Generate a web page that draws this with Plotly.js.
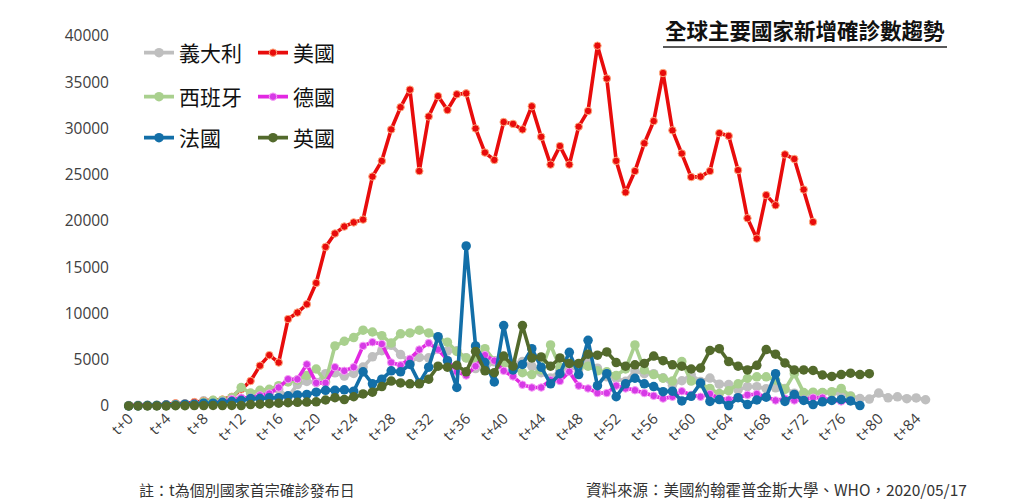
<!DOCTYPE html>
<html>
<head>
<meta charset="utf-8">
<script src="https://cdn.plot.ly/plotly-3.0.1.min.js"></script>
<style>html,body{margin:0;padding:0;background:#fff;}#chart{width:1024px;height:504px;}</style>
</head>
<body>
<div id="chart"></div>
<script>
// category labels t+0 ... t+87
const days = [];
for (let i = 0; i < 88; i++) days.push('t+' + i);
const tickLabels = ['t+0','t+4','t+8','t+12','t+16','t+20','t+24','t+28','t+32','t+36','t+40','t+44','t+48','t+52','t+56','t+60','t+64','t+68','t+72','t+76','t+80','t+84'];

const seriesNames = ['義大利', '美國', '西班牙', '德國', '法國', '英國'];

const italy = [42,93,74,93,131,202,233,240,566,342,466,587,769,778,1247,1492,1797,977,2313,2651,
  2547,3497,3590,3233,3526,4207,5322,5986,6557,5560,4789,5249,5210,6153,5959,5974,5217,4050,4053,4782,
  4668,4585,4805,4316,3599,3039,3836,4204,3951,4694,4092,3153,2972,2667,3786,3493,3491,3047,2256,2729,
  3370,2646,3021,2357,2324,1739,2091,2086,1872,1965,1900,1389,1221,1075,1444,1401,1327,1083,802,744,
  1402,888,992,789,875,675];

const usa = [70,60,110,120,180,290,270,420,540,660,700,1000,1800,2700,4360,5500,4700,9400,10100,11000,
  13300,17200,18650,19400,19850,20150,24800,26500,29900,32300,34200,25400,31300,33500,32000,33700,33800,30000,27400,26600,
  30700,30500,29900,32400,29100,26100,28100,26100,30200,31900,38950,35400,26500,23100,25400,28400,30800,36000,29800,27300,
  24750,24800,25400,29500,29200,25500,20300,18100,22800,21700,27200,26700,23400,19900];

const spain = [40,36,45,57,37,141,100,173,400,622,582,900,2000,1400,1700,1800,2200,2600,2800,3300,
  4000,2600,6500,7000,7400,8200,8000,7600,6800,7800,7900,8200,7900,7400,6900,5900,5200,5000,6200,4900,
  4600,4200,3600,3400,3900,6600,4200,4600,4200,4300,3800,3700,3300,4000,6600,3900,3400,3000,2700,4800,
  2700,2400,1900,1350,1650,2400,3000,3150,3150,2800,1800,3500,1450,1500,1450,1550,1900,1050];

const germany = [50,20,70,60,100,140,100,240,160,300,500,750,900,900,1150,1350,2000,2900,2900,4500,
  2500,2500,4200,3800,4200,6500,6900,6700,4700,4400,5100,6100,6800,6100,5000,3700,3300,4300,5500,4900,
  3800,3200,2300,2000,2000,2800,2700,3700,2200,1900,1400,1400,2200,1900,1700,1400,1100,800,1000,1600,
  1200,1000,1300,800,700,900,1200,1300,1000,600,800,600,700,900,900,600,500,600];

const france = [0,20,50,50,100,100,200,200,300,300,400,500,600,800,800,900,900,1100,1200,1250,
  1500,1700,1700,1750,1600,3700,2400,2900,3800,3700,4500,2500,4200,7500,4900,2000,17300,6500,4700,2600,
  8700,3900,4500,6200,4200,2400,3500,5800,3400,7100,2200,3500,1000,2400,3000,2400,2100,1550,1600,550,
  1050,2500,500,700,50,900,150,650,950,3500,500,1250,600,150,450,600,700,550,50];

const uk = [3,0,13,4,11,34,30,48,43,67,48,61,50,150,200,250,300,350,400,420,
  450,650,900,700,1000,1300,1500,2100,2700,2500,2400,2400,2900,4300,4200,4400,3700,5900,3800,3600,
  5400,4300,8700,5200,5300,4300,5200,4600,4600,5600,5500,5850,4700,4300,4450,4600,5400,4900,4450,4300,
  4000,4100,6000,6200,4800,4300,3900,4400,6100,5600,4650,3900,3900,3850,3350,3200,3400,3550,3400,3500];

const seriesValues = [italy, usa, spain, germany, france, uk];
const colors = ['#bfbfbf', '#e80c0c', '#a9d08e', '#e228e2', '#136fa8', '#536a2c'];
const legendIds = ['legend', 'legend', 'legend2', 'legend2', 'legend3', 'legend3'];

const traces = seriesValues.map((vals, i) => {
  const isDotted = (i === 1 || i === 3);
  return {
    type: 'scatter',
    mode: 'lines+markers',
    name: seriesNames[i],
    x: days.slice(0, vals.length),
    y: vals,
    legend: legendIds[i],
    cliponaxis: false,
    line: {color: colors[i], width: 3.6},
    marker: {
      color: i === 3 ? '#d63ae6' : colors[i],
      size: isDotted ? 7.5 : 9.5,
      line: isDotted ? {color: i === 1 ? '#ffab80' : '#f6a0f6', width: 1} : {width: 0}
    },
    hoverinfo: 'x+y+name'
  };
});

// plot area in pixels
const PL = 124, PR = 949, PT = 36, PB = 406;
function pxX(px) { return (px - PL) / (PR - PL); }
function pxY(py) { return (PB - py) / (PB - PT); }

const legendFont = {family: 'Noto Sans CJK TC, Noto Sans, sans-serif', size: 21, color: '#111'};
function makeLegend(yc) {
  return {
    orientation: 'h', xref: 'paper', yref: 'paper',
    x: pxX(139), xanchor: 'left', y: pxY(yc), yanchor: 'middle',
    font: legendFont, bgcolor: 'rgba(0,0,0,0)', entrywidth: 69, entrywidthmode: 'pixels',
    itemclick: false, itemdoubleclick: false
  };
}

const layout = {
  width: 1024, height: 504,
  paper_bgcolor: '#ffffff', plot_bgcolor: '#ffffff',
  margin: {l: PL, r: 1024 - PR, t: PT, b: 504 - PB, autoexpand: false},
  showlegend: true,
  legend: makeLegend(53),
  legend2: makeLegend(97),
  legend3: makeLegend(138),
  xaxis: {
    type: 'category', categoryorder: 'array', categoryarray: days,
    range: [-0.5, 87.5], showgrid: false, zeroline: false, showline: false,
    tickmode: 'array', tickvals: tickLabels, ticktext: tickLabels,
    tickangle: -45, ticks: '', automargin: false,
    tickfont: {family: 'Open Sans, Noto Sans, sans-serif', size: 15, color: '#404040'}
  },
  yaxis: {
    range: [0, 40000], dtick: 5000, tickformat: 'd',
    showgrid: false, zeroline: false, showline: false, ticks: '', automargin: false,
    ticklabelstandoff: 14,
    tickfont: {family: 'Open Sans, Noto Sans, sans-serif', size: 15.5, color: '#404040'}
  },
  annotations: [
    {text: '<b>全球主要國家新增確診數趨勢</b>', xref: 'paper', yref: 'paper',
     x: pxX(805), y: pxY(30), xanchor: 'center', yanchor: 'middle', showarrow: false,
     font: {family: 'Noto Sans CJK TC, sans-serif', size: 21.5, color: '#111'}},
    {text: '註：t為個別國家首宗確診發布日', xref: 'paper', yref: 'paper',
     x: pxX(137), y: pxY(489), xanchor: 'left', yanchor: 'middle', showarrow: false,
     font: {family: 'Noto Sans CJK TC, sans-serif', size: 15, color: '#333'}},
    {text: '資料來源：美國約翰霍普金斯大學、WHO，2020/05/17', xref: 'paper', yref: 'paper',
     x: pxX(969), y: pxY(489), xanchor: 'right', yanchor: 'middle', showarrow: false,
     font: {family: 'Noto Sans CJK TC, sans-serif', size: 15.5, color: '#333'}}
  ],
  shapes: [
    {type: 'line', xref: 'paper', yref: 'paper', x0: pxX(663), x1: pxX(947),
     y0: pxY(47), y1: pxY(47), line: {color: '#222', width: 1.5}}
  ]
};

Plotly.newPlot('chart', traces, layout, {displayModeBar: false, staticPlot: true});
</script>
</body>
</html>
